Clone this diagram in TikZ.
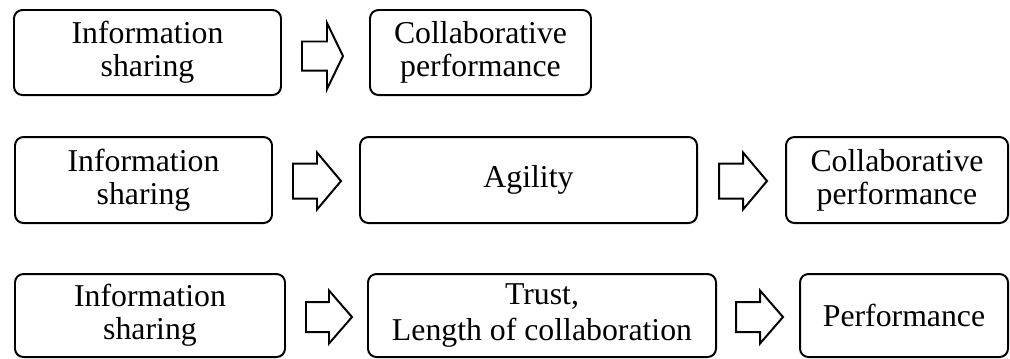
\documentclass[tikz,border=0pt]{standalone}
\usepackage{fontspec}
\setmainfont{Liberation Serif}
\usepackage{tikz}

\begin{document}
\begin{tikzpicture}[x=0.0125cm,y=-0.0125cm,line width=0.7pt,
  blk/.style={draw,rounded corners=3pt,align=center,inner sep=0pt,
    font=\fontsize{11.3}{11.7}\selectfont},
  barrow/.style={draw,line join=miter}]
\useasboundingbox (0,0) rectangle (1010,358);

% first row
\node[blk,minimum width=267*0.0125cm,minimum height=85*0.0125cm] (1) at (147.5,52.5) {Information\\sharing};
\node[blk,minimum width=221*0.0125cm,minimum height=85*0.0125cm] (2) at (480.5,52.5) {Collaborative\\performance};
\draw[barrow] (302,41.5) -- (327,41.5) -- (327,23) -- (343,56) -- (327,89) -- (327,70.5) -- (302,70.5) -- cycle;

% second row
\node[blk,minimum width=257*0.0125cm,minimum height=86*0.0125cm] (3) at (143.5,180) {Information\\sharing};
\node[blk,minimum width=337*0.0125cm,minimum height=86*0.0125cm] (4) at (528.5,180) {Agility};
\node[blk,minimum width=222*0.0125cm,minimum height=86*0.0125cm] (5) at (897,180) {Collaborative\\performance};
\draw[barrow] (293,163.5) -- (317,163.5) -- (317,152.5) -- (341,181) -- (317,209.5) -- (317,198.5) -- (293,198.5) -- cycle;
\draw[barrow] (719,163.5) -- (743,163.5) -- (743,152.5) -- (767,181) -- (743,209.5) -- (743,198.5) -- (719,198.5) -- cycle;

% third row
\node[blk,minimum width=270*0.0125cm,minimum height=83*0.0125cm] (6) at (150,315.5) {Information\\sharing};
\node[blk,minimum width=348*0.0125cm,minimum height=83*0.0125cm,
  font=\fontsize{11.3}{13}\selectfont] (7) at (542,315.5) {Trust,\\Length of collaboration};
\node[blk,minimum width=208*0.0125cm,minimum height=83*0.0125cm] (8) at (904,315.5) {Performance};
\draw[barrow] (306,302) -- (329,302) -- (329,290.5) -- (352,317) -- (329,343.5) -- (329,332) -- (306,332) -- cycle;
\draw[barrow] (736,302) -- (760,302) -- (760,290.5) -- (783,317) -- (760,343.5) -- (760,332) -- (736,332) -- cycle;
\end{tikzpicture}
\end{document}
